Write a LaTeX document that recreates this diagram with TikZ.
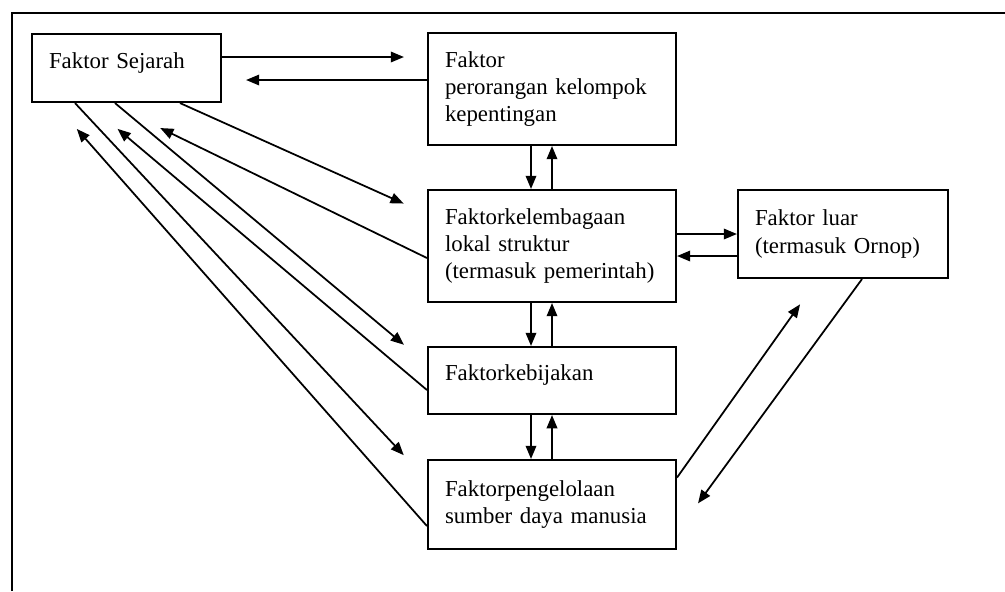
\documentclass[tikz,border=0pt]{standalone}
\usepackage{fontspec}
\setmainfont{Liberation Serif}
\usetikzlibrary{arrows.meta}

\begin{document}
\begin{tikzpicture}[
      every node/.style={font=\fontsize{13}{15.4}\selectfont},
      factor/.style={rectangle, draw=black, line width=1.2pt, align=left, inner xsep=0.34cm},
      wide/.style={factor, text width=4.28cm},
      oneline/.style={text height=0.32cm, text depth=0.32cm},
      link/.style={line width=1pt, -{Triangle[length=7.5pt,width=6pt]}}
  ]
    \useasboundingbox (0,0) rectangle (20.1,-11.82);
    \draw[line width=1.1pt] (0.24,-11.82) -- (0.24,-0.26) -- (20.1,-0.26);

    \node[factor, oneline, text width=3.1cm, minimum height=1.36cm] (sejarah) at (2.53,-1.36) {Faktor Sejarah};
    \node[wide, minimum height=2.24cm] (perorangan) at (11.04,-1.78) {Faktor\\perorangan kelompok\\kepentingan};
    \node[wide, minimum height=2.24cm] (kelembagaan) at (11.04,-4.92) {Faktorkelembagaan\\lokal struktur\\(termasuk pemerintah)};
    \node[factor, text width=3.52cm, minimum height=1.76cm] (luar) at (16.86,-4.68) {Faktor luar\\(termasuk Ornop)};
    \node[wide, oneline, minimum height=1.34cm] (kebijakan) at (11.04,-7.61) {Faktorkebijakan};
    \node[wide, minimum height=1.78cm] (pengelolaan) at (11.04,-10.09) {Faktorpengelolaan\\sumber daya manusia};

    \draw[link, shorten >=0.46cm] ([yshift=0.22cm]sejarah.east) -- ([yshift=0.22cm]sejarah.east -| perorangan.west);
    \draw[link, shorten >=0.48cm] ([yshift=0.18cm]perorangan.west) -- ([yshift=0.18cm]perorangan.west -| sejarah.east);

    \foreach \a/\b in {perorangan/kelembagaan, kelembagaan/kebijakan, kebijakan/pengelolaan} {
      \draw[link] ([xshift=-0.42cm]\a.south) -- ([xshift=-0.42cm]\a.south |- \b.north);
      \draw[link] (\b.north) -- (\b.north |- \a.south);
    }

    \draw[link] (kelembagaan.east |- luar.west) -- (luar.west);
    \draw[link] ([yshift=-0.44cm]luar.west) -- ([yshift=-0.44cm]luar.west -| kelembagaan.east);

    \draw[link, shorten >=0.51cm] ([xshift=1.07cm]sejarah.south) -- ([yshift=0.64cm]kelembagaan.west);
    \draw[link, shorten >=1.14cm] ([yshift=-0.24cm]kelembagaan.west) -- ([xshift=-0.35cm]sejarah.south);
    \draw[link, shorten >=0.6cm] ([xshift=-0.23cm]sejarah.south) -- ([yshift=0.33cm]kebijakan.west);
    \draw[link, shorten >=0.8cm] ([yshift=-0.19cm]kebijakan.west) -- ([xshift=-0.79cm]sejarah.south);
    \draw[link, shorten >=0.68cm] ([xshift=-1.03cm]sejarah.south) -- ([yshift=0.49cm]pengelolaan.west);
    \draw[link, shorten >=0.69cm] ([yshift=-0.43cm]pengelolaan.west) -- ([xshift=-1.45cm]sejarah.south);

    \draw[link, shorten >=0.62cm] ([yshift=0.54cm]pengelolaan.east) -- ([xshift=-0.5cm]luar.south);
    \draw[link, shorten >=0.71cm] ([xshift=0.38cm]luar.south) -- ([yshift=-0.55cm]pengelolaan.east);
  \end{tikzpicture}
\end{document}
